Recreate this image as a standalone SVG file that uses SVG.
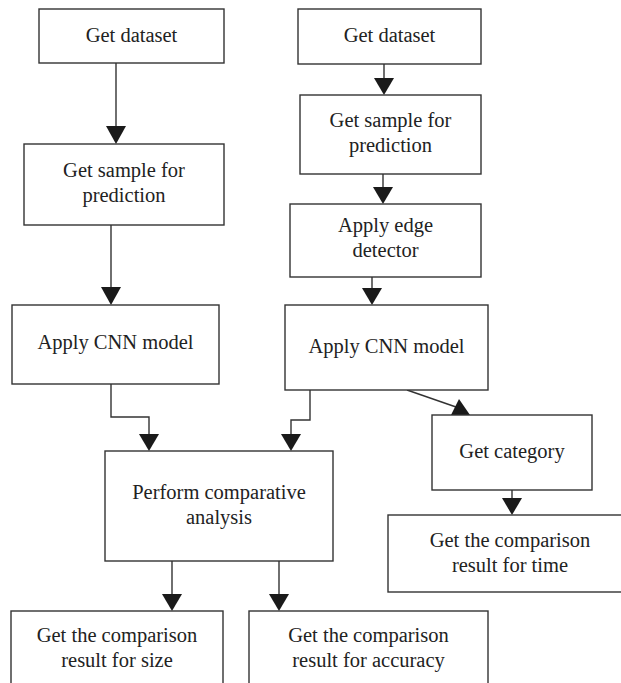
<svg xmlns="http://www.w3.org/2000/svg" width="621" height="683" viewBox="0 0 621 683">
<defs>
<style>
.box{fill:#fff;stroke:#333;stroke-width:1.4}
.ln{fill:none;stroke:#333;stroke-width:1.4}
.ah{fill:#1a1a1a;stroke:none}
text{font-family:"Liberation Serif","Times New Roman",serif;font-size:20.5px;fill:#222;text-anchor:middle}
</style>
</defs>
<rect width="621" height="683" fill="#fff"/>
<g id="connectors">
<line class="ln" x1="116" y1="63" x2="116" y2="128"/>
<polygon class="ah" points="106,126 126,126 116,144"/>
<line class="ln" x1="111" y1="225" x2="111" y2="289"/>
<polygon class="ah" points="101,287 121,287 111,305"/>
<polyline class="ln" points="111,384 111,417 149,417 149,436"/>
<polygon class="ah" points="139,434 159,434 149,451"/>
<line class="ln" x1="384" y1="64" x2="384" y2="80"/>
<polygon class="ah" points="374,78 394,78 384,95"/>
<line class="ln" x1="383" y1="174" x2="383" y2="189"/>
<polygon class="ah" points="373,187 393,187 383,204"/>
<line class="ln" x1="372" y1="277" x2="372" y2="290"/>
<polygon class="ah" points="362,288 382,288 372,305"/>
<polyline class="ln" points="310,390 310,420 291,420 291,436"/>
<polygon class="ah" points="281,434 301,434 291,451"/>
<line class="ln" x1="407" y1="390" x2="456" y2="407"/>
<polygon class="ah" points="459,399 451,415 470,415"/>
<line class="ln" x1="512" y1="490" x2="512" y2="500"/>
<polygon class="ah" points="502,498 522,498 512,515"/>
<line class="ln" x1="172" y1="561" x2="172" y2="596"/>
<polygon class="ah" points="162,594 182,594 172,611"/>
<line class="ln" x1="279" y1="561" x2="279" y2="596"/>
<polygon class="ah" points="269,594 289,594 279,611"/>
</g>
<g id="n1"><rect class="box" x="39" y="9" width="185" height="54"/><text x="131.5" y="41.5">Get dataset</text></g>
<g id="n2"><rect class="box" x="24" y="144" width="200" height="81"/><text x="124" y="177">Get sample for</text><text x="124" y="202">prediction</text></g>
<g id="n3"><rect class="box" x="12" y="305" width="207" height="79"/><text x="115.5" y="349">Apply CNN model</text></g>
<g id="n4"><rect class="box" x="298" y="9" width="183" height="55"/><text x="389.5" y="41.5">Get dataset</text></g>
<g id="n5"><rect class="box" x="300" y="95" width="181" height="79"/><text x="390.5" y="127">Get sample for</text><text x="390.5" y="152">prediction</text></g>
<g id="n6"><rect class="box" x="290" y="204" width="191" height="73"/><text x="385.5" y="232">Apply edge</text><text x="385.5" y="257">detector</text></g>
<g id="n7"><rect class="box" x="285" y="305" width="203" height="85"/><text x="386.5" y="353">Apply CNN model</text></g>
<g id="n8"><rect class="box" x="105" y="451" width="228" height="110"/><text x="219" y="499">Perform comparative</text><text x="219" y="524">analysis</text></g>
<g id="n9"><rect class="box" x="432" y="415" width="160" height="75"/><text x="512" y="458">Get category</text></g>
<g id="n10"><rect class="box" x="388" y="515" width="244" height="77"/><text x="510" y="547">Get the comparison</text><text x="510" y="572">result for time</text></g>
<g id="n11"><rect class="box" x="11" y="611" width="212" height="90"/><text x="117" y="642">Get the comparison</text><text x="117" y="667">result for size</text></g>
<g id="n12"><rect class="box" x="249" y="611" width="239" height="90"/><text x="368.5" y="642">Get the comparison</text><text x="368.5" y="667">result for accuracy</text></g>
</svg>
